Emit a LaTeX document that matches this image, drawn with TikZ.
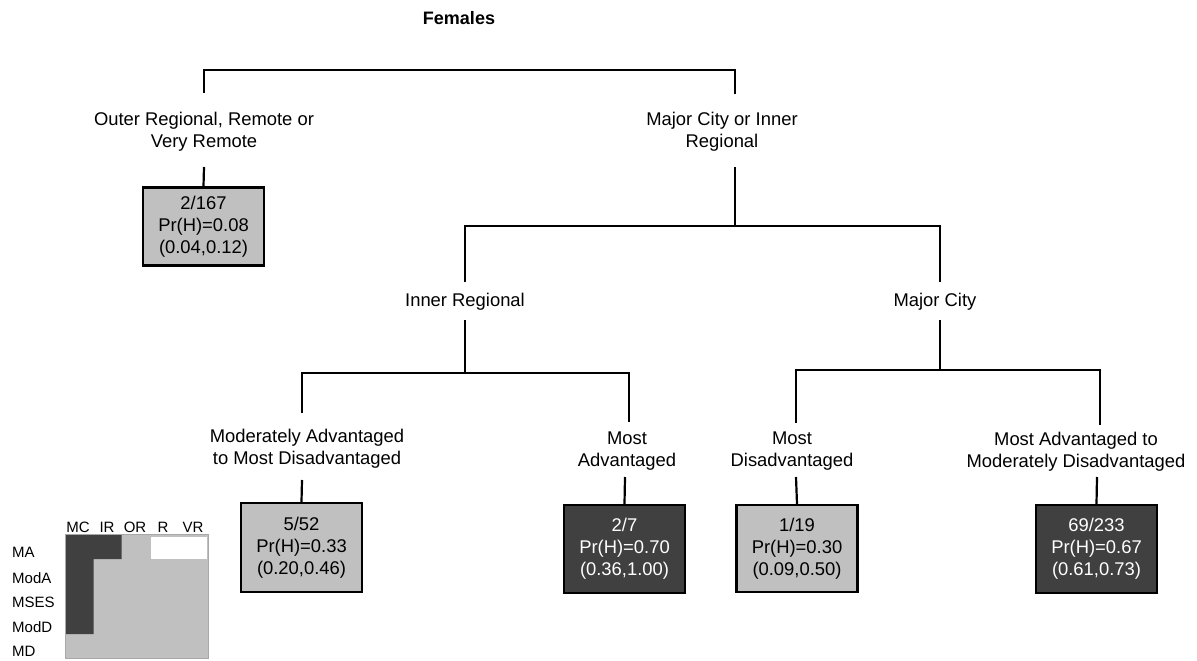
\documentclass[tikz,border=0pt]{standalone}
\usepackage{fontspec}
\setmainfont{Liberation Sans}
\newcommand\labfont{\fontsize{18.4}{22}\selectfont}
\newcommand\legfont{\fontsize{15}{18}\selectfont}
\definecolor{lgray}{HTML}{C0C0C0}
\definecolor{dgray}{HTML}{404040}
\definecolor{bgray}{HTML}{A8A8A8}
\tikzset{
  tree/.style={line width=2.2pt, black},
  lbl/.style={align=center, font=\labfont, inner sep=0pt},
  leaf/.style={draw=black, line width=2.2pt, minimum width=121pt, minimum height=87pt, align=center, font=\labfont, inner sep=0pt},
  lightleaf/.style={leaf, fill=lgray},
  darkleaf/.style={leaf, fill=dgray, text=white},
  leg/.style={font=\legfont, inner sep=0pt},
}
\begin{document}
\begin{tikzpicture}[x=1pt,y=-1pt]
\useasboundingbox (0,0) rectangle (1197,661);
\node[font=\fontsize{18}{22}\selectfont\bfseries, inner sep=0pt] (title) at (459,18) {Females};

% level 1
\node[lbl] (outer) at (204,131.5) {Outer Regional, Remote or\\Very Remote};
\node[lbl] (mcir) at (722,132) {Major City or Inner\\Regional};
\coordinate (t1a) at (204,93);
\coordinate (t1b) at (735,70);
\coordinate (t1c) at (735,94);
\draw[tree] (t1a) |- (t1b) -- (t1c);

\node[lightleaf, minimum height=78pt] (box1) at (203.5,226.5) {2/167\\Pr(H)=0.08\\(0.04,0.12)};
\coordinate (o1) at (204,167);
\draw[tree] (o1) -- (box1.north);

% level 2
\coordinate (m1) at (735,167);
\coordinate (m2) at (735,226);
\coordinate (b2L) at (465,282);
\coordinate (b2R) at (940,282);
\draw[tree] (m1) -- (m2);
\draw[tree] (b2L) |- (m2) -| (b2R);
\node[lbl] (inner) at (465,302) {Inner Regional};
\node[lbl] (major) at (935,302) {Major City};

% level 3 inner
\coordinate (i1) at (465,320);
\coordinate (i2) at (465,373);
\coordinate (i3L) at (302,413);
\coordinate (i3R) at (629,422);
\draw[tree] (i1) -- (i2);
\draw[tree] (i3L) |- (i2) -| (i3R);

% level 3 major
\coordinate (j1) at (940,320);
\coordinate (j2) at (940,370);
\coordinate (j3L) at (796,423);
\coordinate (j3R) at (1100,425);
\draw[tree] (j1) -- (j2);
\draw[tree] (j3L) |- (j2) -| (j3R);

% level 3 labels
\node[lbl] (modadv) at (307,449) {Moderately Advantaged\\to Most Disadvantaged};
\node[lbl] (mostadv) at (627,451) {Most\\Advantaged};
\node[lbl] (mostdis) at (792,451) {Most\\Disadvantaged};
\node[lbl] (madv) at (1076,452) {Most Advantaged to\\Moderately Disadvantaged};

% leaves
\node[lightleaf, minimum height=89pt] (box2) at (301.5,547.5) {5/52\\Pr(H)=0.33\\(0.20,0.46)};
\node[darkleaf, minimum height=88pt] (box3) at (624.5,549) {2/7\\Pr(H)=0.70\\(0.36,1.00)};
\node[lightleaf, minimum height=87pt] (box4) at (797,548.5) {1/19\\Pr(H)=0.30\\(0.09,0.50)};
\node[darkleaf, minimum height=88pt] (box5) at (1096.5,549) {69/233\\Pr(H)=0.67\\(0.61,0.73)};

\coordinate (k2) at (302,480);
\coordinate (k3) at (625,477);
\coordinate (k4) at (796,477);
\coordinate (k5) at (1097,477);
\draw[tree] (k2) -- (box2.north);
\draw[tree] (k3) -- (box3.north);
\draw[tree] (k4) -- (box4.north);
\draw[tree] (k5) -- (box5.north);

% legend
\fill[lgray] (65.7,534) rectangle (208.3,658);
\fill[dgray] (65.7,534) -- (121.7,534) -- (121.7,559) -- (93.5,559) -- (93.5,634) -- (65.7,634) -- cycle;
\fill[white] (151,537) rectangle (206.7,559);
\draw[bgray, line width=1pt] (65.7,534) rectangle (208.3,658);
\node[leg] (cMC) at (78,527) {MC};
\node[leg] (cIR) at (107,527) {IR};
\node[leg] (cOR) at (135,527) {OR};
\node[leg] (cR) at (163,527) {R};
\node[leg] (cVR) at (193,527) {VR};
\node[leg, anchor=west] (rMA) at (12,552) {MA};
\node[leg, anchor=west] (rModA) at (12,578) {ModA};
\node[leg, anchor=west] (rMSES) at (12,602) {MSES};
\node[leg, anchor=west] (rModD) at (12,627) {ModD};
\node[leg, anchor=west] (rMD) at (12,651) {MD};
\end{tikzpicture}
\end{document}
